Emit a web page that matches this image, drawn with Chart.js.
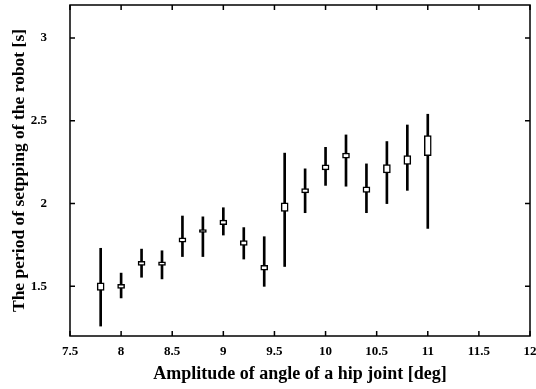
<!DOCTYPE html>
<html><head><meta charset="utf-8">
<script src="https://cdn.jsdelivr.net/npm/chart.js@4/dist/chart.umd.min.js"></script>
<style>html,body{margin:0;padding:0;background:#fff;}#wrap{width:536px;height:389px;}</style>
</head><body><div id="wrap"><canvas id="c" width="536" height="389"></canvas></div>
<script>
const amplitudes = [7.8, 8.0, 8.2, 8.4, 8.6, 8.8, 9.0, 9.2, 9.4, 9.6, 9.8, 10.0, 10.2, 10.4, 10.6, 10.8, 11.0];
const whiskerLow  = [1.26, 1.43, 1.555, 1.545, 1.68, 1.68, 1.81, 1.665, 1.50, 1.62, 1.945, 2.11, 2.105, 1.945, 2.0, 2.08, 1.85];
const whiskerHigh = [1.73, 1.58, 1.725, 1.715, 1.925, 1.92, 1.975, 1.855, 1.80, 2.305, 2.21, 2.34, 2.415, 2.24, 2.375, 2.475, 2.54];
const boxLow  = [1.476, 1.488, 1.627, 1.627, 1.767, 1.826, 1.872, 1.748, 1.598, 1.953, 2.065, 2.204, 2.275, 2.067, 2.185, 2.236, 2.29];
const boxHigh = [1.522, 1.512, 1.651, 1.648, 1.793, 1.843, 1.900, 1.776, 1.627, 2.005, 2.091, 2.235, 2.306, 2.101, 2.236, 2.290, 2.411];
const xTicks = [7.5, 8, 8.5, 9, 9.5, 10, 10.5, 11, 11.5, 12];
const yTicks = [1.5, 2, 2.5, 3];

const serif = "'Liberation Serif','Times New Roman',serif";

const framePlugin = {
  id: 'frame',
  afterDraw(chart) {
    const {ctx, chartArea: a, scales} = chart;
    ctx.save();
    ctx.strokeStyle = '#000';
    ctx.lineWidth = 1.5;
    ctx.strokeRect(a.left, a.top, a.right - a.left, a.bottom - a.top);
    const L = 5;
    ctx.beginPath();
    xTicks.forEach(v => {
      const px = scales.x.getPixelForValue(v);
      ctx.moveTo(px, a.bottom); ctx.lineTo(px, a.bottom - L);
      ctx.moveTo(px, a.top); ctx.lineTo(px, a.top + L);
    });
    yTicks.forEach(v => {
      const py = scales.y.getPixelForValue(v);
      ctx.moveTo(a.left, py); ctx.lineTo(a.left + L, py);
      ctx.moveTo(a.right, py); ctx.lineTo(a.right - L, py);
    });
    ctx.stroke();
    ctx.restore();
  }
};

new Chart(document.getElementById('c'), {
  type: 'bar',
  data: {
    datasets: [
      {
        label: 'range',
        data: amplitudes.map((x, i) => ({x: x, y: [whiskerLow[i], whiskerHigh[i]]})),
        backgroundColor: '#000',
        borderWidth: 0,
        barThickness: 2,
        grouped: false,
        order: 2
      },
      {
        label: 'box',
        data: amplitudes.map((x, i) => ({x: x, y: [boxLow[i], boxHigh[i]]})),
        backgroundColor: '#fff',
        borderColor: '#000',
        borderWidth: 1.5,
        borderSkipped: false,
        barThickness: 7,
        grouped: false,
        order: 1
      }
    ]
  },
  options: {
    responsive: false,
    animation: false,
    devicePixelRatio: 1,
    layout: {padding: {top: 5, right: 6, left: 0, bottom: 0}},
    plugins: {legend: {display: false}, tooltip: {enabled: false}},
    scales: {
      x: {
        type: 'linear',
        min: 7.5, max: 12,
        offset: false,
        afterBuildTicks: s => { s.ticks = xTicks.map(v => ({value: v})); },
        afterFit: s => { s.height = 53; s.paddingLeft = 0; s.paddingRight = 0; s.paddingTop = 0; s.paddingBottom = 0; },
        grid: {display: false, drawTicks: false},
        border: {display: false},
        ticks: {
          color: '#000', padding: 8, maxRotation: 0, autoSkip: false,
          font: {family: serif, size: 13, weight: 'bold'},
          callback: v => String(v)
        },
        title: {
          display: true, text: 'Amplitude of angle of a hip joint [deg]',
          color: '#000', padding: {top: 0, bottom: 4},
          font: {family: serif, size: 18, weight: 'bold'}
        }
      },
      y: {
        type: 'linear',
        min: 1.2, max: 3.2,
        afterBuildTicks: s => { s.ticks = yTicks.map(v => ({value: v})); },
        afterFit: s => { s.width = 70; s.paddingTop = 0; s.paddingBottom = 0; s.paddingLeft = 0; s.paddingRight = 0; },
        grid: {display: false, drawTicks: false},
        border: {display: false},
        ticks: {
          color: '#000', padding: 23,
          font: {family: serif, size: 13, weight: 'bold'},
          callback: v => String(v)
        },
        title: {
          display: true, text: 'The period of setpping of the robot [s]',
          color: '#000', padding: {top: 9, bottom: 0},
          font: {family: serif, size: 17.5, weight: 'bold'}
        }
      }
    }
  },
  plugins: [framePlugin]
});
</script>
</body></html>
